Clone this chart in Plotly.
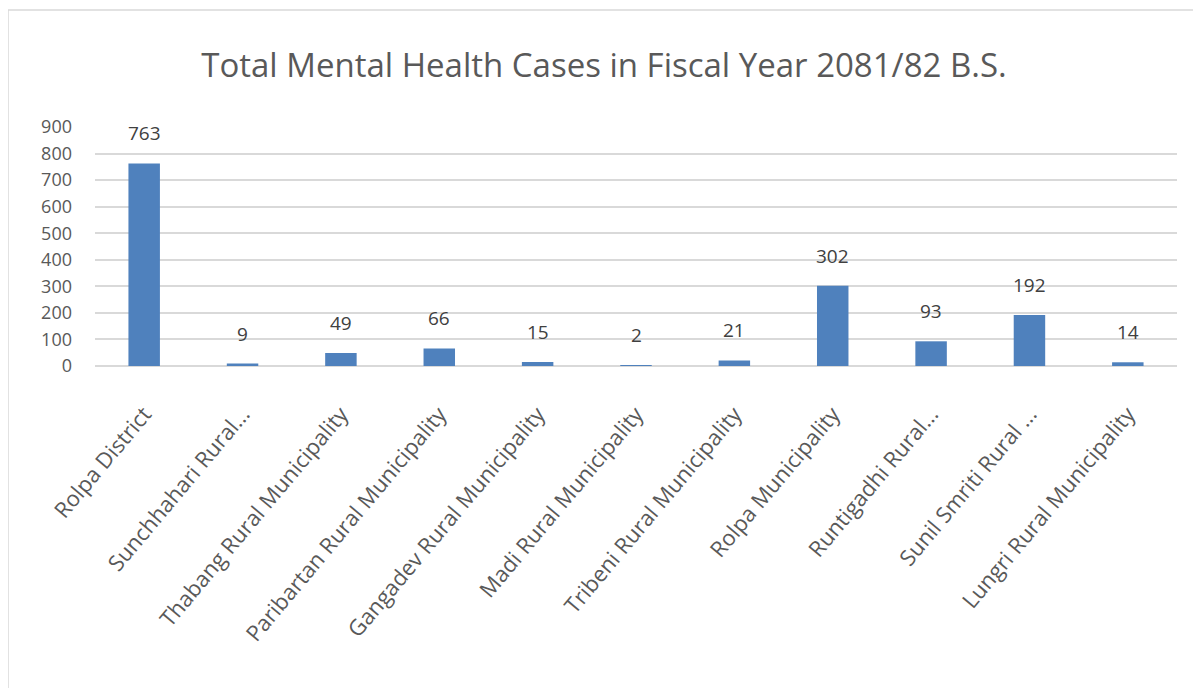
import plotly.graph_objects as go

categories = [
    "Rolpa District",
    "Sunchhahari Rural...",
    "Thabang Rural Municipality",
    "Paribartan Rural Municipality",
    "Gangadev Rural Municipality",
    "Madi Rural Municipality",
    "Tribeni Rural Municipality",
    "Rolpa Municipality",
    "Runtigadhi Rural...",
    "Sunil Smriti Rural ...",
    "Lungri Rural Municipality",
]
cases = [763, 9, 49, 66, 15, 2, 21, 302, 93, 192, 14]
y_ticks = [0, 100, 200, 300, 400, 500, 600, 700, 800, 900]

FONT = "Open Sans"
W, H = 1201, 688
L, R, T, B = 87, 32, 119, 330
pw, ph = W - L - R, H - T - B

fig = go.Figure()
fig.add_trace(go.Bar(
    x=categories, y=cases,
    marker=dict(color="#4F81BD", line=dict(width=0)),
    width=0.32,
    hoverinfo="x+y",
))
for c, v in zip(categories, cases):
    fig.add_annotation(x=c, y=v, text=str(v), showarrow=False,
                       yshift=30, font=dict(family=FONT, size=19, color="#404040"))

fig.update_layout(
    width=W, height=H,
    margin=dict(l=L, r=R, t=T, b=B, pad=0),
    paper_bgcolor="white", plot_bgcolor="white",
    showlegend=False,
    title=dict(text="Total Mental Health Cases in Fiscal Year 2081/82 B.S.",
               x=(604 - 8) / W, xanchor="center", y=1 - (65 - 8) / H, yanchor="middle",
               font=dict(family=FONT, size=33, color="#595959")),
    xaxis=dict(tickangle=-50, tickfont=dict(family=FONT, size=22, color="#595959"),
               showgrid=False, showline=False, ticks="", ticklabelstandoff=30),
    yaxis=dict(range=[0, 900], tickvals=y_ticks, showgrid=True, gridcolor="#D9D9D9",
               gridwidth=1.5, zeroline=True, zerolinecolor="#D9D9D9", zerolinewidth=1.5,
               tickfont=dict(family=FONT, size=18, color="#595959"),
               ticks="", showline=False, ticklabelstandoff=22),
    shapes=[dict(type="rect", xref="paper", yref="paper",
                 x0=(0 - L) / pw, x1=(1198 - L) / pw,
                 y0=(H - B - 700) / ph, y1=(H - B - 2) / ph,
                 line=dict(color="#D9D9D9", width=1.5), fillcolor="rgba(0,0,0,0)", layer="below")],
)

fig.write_html("out.html")
